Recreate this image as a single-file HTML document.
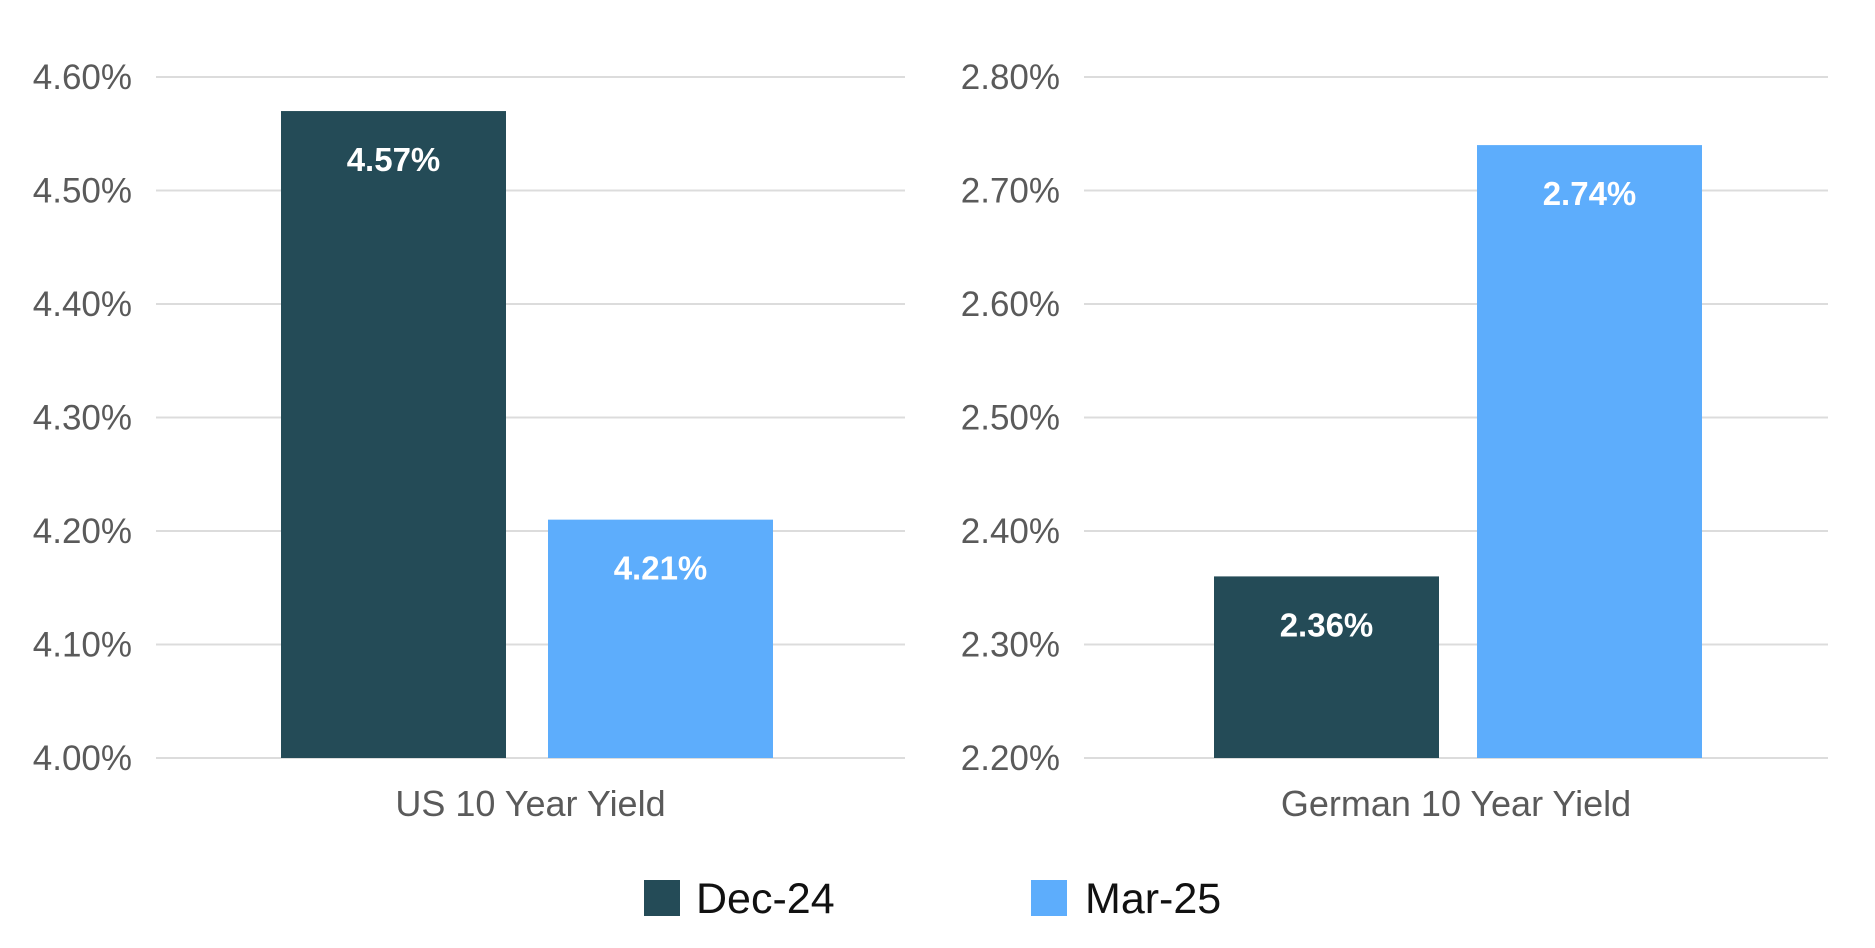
<!DOCTYPE html>
<html><head><meta charset="utf-8"><style>
body{margin:0;background:#fff;}
svg{display:block;font-family:"Liberation Sans",sans-serif;}
</style></head><body>
<svg id="c" width="1875" height="948"></svg>
<script>
const categories=["US 10 Year Yield","German 10 Year Yield"];
const seriesNames=["Dec-24","Mar-25"];
const dec24=[4.57,2.36];
const mar25=[4.21,2.74];
const usTicks=[4.00,4.10,4.20,4.30,4.40,4.50,4.60];
const deTicks=[2.20,2.30,2.40,2.50,2.60,2.70,2.80];
const colors=["#244b57","#5dadfc"];
const NS="http://www.w3.org/2000/svg";
const svg=document.getElementById('c');
function mk(t,a,p){const e=document.createElementNS(NS,t);for(const k in a)e.setAttribute(k,a[k]);(p||svg).appendChild(e);return e;}
const panels=[{x0:156,x1:905,ticks:usTicks,bars:[281,548]},{x0:1084,x1:1828,ticks:deTicks,bars:[1214,1477]}];
const yTop=77,yBot=758,bw=225;
panels.forEach((p,i)=>{
  const min=p.ticks[0],max=p.ticks[p.ticks.length-1];
  const y=v=>yBot-(v-min)/(max-min)*(yBot-yTop);
  const g=mk('g',{});
  
  
  p.ticks.forEach(t=>{
    const l=mk('line',{x1:p.x0,x2:p.x1,y1:y(t),y2:y(t),stroke:'#dcdcdc','stroke-width':2},g);
    
    
    const tx=mk('text',{x:p.x0-24,y:y(t)+12,'text-anchor':'end','font-size':35,fill:'#5a5a5a'},g);
    
    
    tx.textContent=t.toFixed(2)+'%';
  });
  [dec24[i],mar25[i]].forEach((v,s)=>{
    const r=mk('rect',{x:p.bars[s],y:y(v),width:bw,height:yBot-y(v),fill:colors[s]},g);
    
    
    const tx=mk('text',{x:p.bars[s]+bw/2,y:y(v)+60,'text-anchor':'middle','font-size':33,'font-weight':'bold',fill:'#fff'},g);
    
    
    tx.textContent=v.toFixed(2)+'%';
  });
  const cl=mk('text',{x:(p.x0+p.x1)/2,y:816,'text-anchor':'middle','font-size':36,fill:'#5a5a5a'},g);
  
  
  cl.textContent=categories[i];
});
const leg=[[644,696],[1031,1085]];
seriesNames.forEach((n,s)=>{
  const g=mk('g',{});
  
  
  mk('rect',{x:leg[s][0],y:880,width:36,height:36,fill:colors[s]},g);
  const t=mk('text',{x:leg[s][1],y:913,'font-size':43,fill:'#111'},g);
  t.textContent=n;
});
</script>
</body></html>
